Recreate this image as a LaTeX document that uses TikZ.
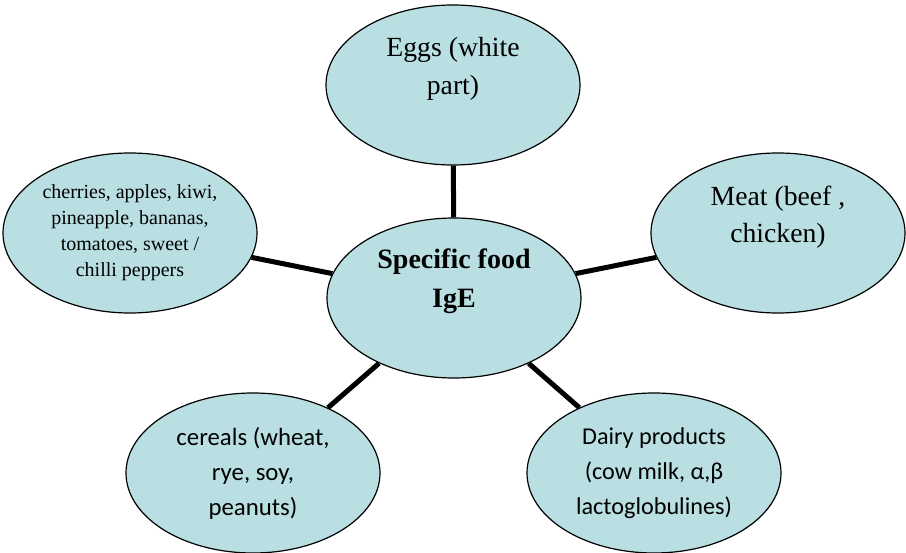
\documentclass[tikz,border=0pt]{standalone}
\usepackage{fontspec}
\setmainfont{Liberation Serif}
\newfontfamily\calib{Carlito}
\usetikzlibrary{shapes.geometric}
\definecolor{foodblue}{HTML}{B9DFE3}

\begin{document}
\begin{tikzpicture}[x=1pt, y=-1pt,
    blob/.style={ellipse, draw=black, line width=1.2pt, fill=foodblue,
      minimum width=254, minimum height=160, inner sep=0pt, align=center},
    link/.style={line width=5pt}]
    \useasboundingbox (0,0) rectangle (906,553);

    \node[blob, font=\fontsize{28}{39}\selectfont\bfseries](IgE) at (454, 298){Specific food\\IgE\\\mbox{}};

    \node[blob, font=\fontsize{27.7}{38}\selectfont](Eggs) at (453, 85){Eggs (white\\part)\\\mbox{}};
    \node[blob, font=\fontsize{27.7}{37}\selectfont](Meat) at (778, 233){Meat (beef ,\\chicken)\\\mbox{}};
    \node[blob, font=\fontsize{20}{26}\selectfont](Fruit) at (130, 233){cherries, apples, kiwi,\\pineapple, bananas,\\tomatoes, sweet /\\chilli peppers};
    \node[blob, font=\calib\fontsize{24.8}{35}\selectfont](Cereal) at (253, 473){cereals (wheat,\\rye, soy,\\peanuts)};
    \node[blob, font=\calib\fontsize{24.2}{35}\selectfont](Dairy) at (654, 473){Dairy products\\(cow milk, α,β\\lactoglobulines)};

    \draw[link] (IgE) -- (Eggs);
    \draw[link] (IgE) -- (Meat);
    \draw[link] (IgE) -- (Fruit);
    \draw[link] (IgE) -- (Cereal);
    \draw[link] (IgE) -- (Dairy);
  \end{tikzpicture}
\end{document}
